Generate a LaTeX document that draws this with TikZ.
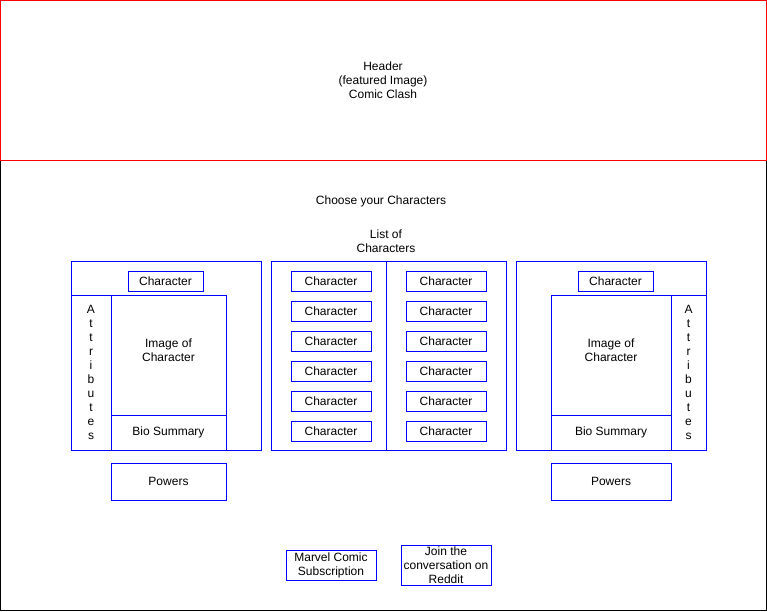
\documentclass[tikz,border=0pt]{standalone}
\usepackage{fontspec}
\setmainfont{Liberation Sans}
\usepackage{xcolor}
\usepackage{tikz}
\usetikzlibrary{positioning}
\definecolor{boxblue}{RGB}{0, 0, 255}
\definecolor{headred}{RGB}{255, 0, 0}

\begin{document}
\begin{tikzpicture}[x=1pt, y=-1pt,
          every node/.style={font=\fontsize{12}{14}\selectfont, inner sep=0pt, align=center},
          page/.style={rectangle, draw=black, line width=1pt, minimum width=766pt, minimum height=610pt},
          header/.style={rectangle, draw=headred, line width=1pt, minimum width=766pt, minimum height=160pt},
          panel/.style={rectangle, draw=boxblue, line width=1pt},
          charbox/.style={rectangle, draw=boxblue, line width=1pt, minimum height=20pt},
          listbox/.style={charbox, minimum width=80pt},
          imgtext/.style={label={[align=center, yshift=5pt]center:Image of\\Character}},
          caption/.style={rectangle, draw=none}
        ]
          \useasboundingbox (0,0) rectangle (767,611);

          % Page and Header
          \node[page] (page) at (383,305.5) {};
          \node[header] (header) at (383,80.5) {Header\\(featured Image)\\Comic Clash};

          % Titles
          \node[caption] (choose) at (381,201) {Choose your Characters};
          \node[caption] (listof) at (386,241.5) {List of\\Characters};

          % Left Player
          \node[panel, minimum width=190pt, minimum height=189pt] (leftpanel) at (166,355.5) {};
          \node[charbox, minimum width=75pt] (leftchar) at (165.5,281) {Character};
          \node[panel, minimum width=40pt, minimum height=155pt] (leftattr) at (91,372.5) {A\\t\\t\\r\\i\\b\\u\\t\\e\\s};
          \node[panel, imgtext, minimum width=115pt, minimum height=120pt] (leftimg) at (168.5,355) {};
          \node[panel, minimum width=115pt, minimum height=35pt] (leftbio) at (168.5,432.5) {Bio Summary};
          \node[panel, minimum width=115pt, minimum height=37pt] (leftpow) at (168.5,481.5) {Powers};

          % List of Characters
          \node[panel, minimum width=115pt, minimum height=189pt] (listleft) at (328.5,355.5) {};
          \node[panel, minimum width=120pt, minimum height=189pt] (listright) at (446,355.5) {};

          \node[listbox] (lchar1) at (331,281) {Character};
          \node[listbox] (lchar2) at (331,311) {Character};
          \node[listbox] (lchar3) at (331,341) {Character};
          \node[listbox] (lchar4) at (331,371) {Character};
          \node[listbox] (lchar5) at (331,401) {Character};
          \node[listbox] (lchar6) at (331,431) {Character};

          \node[listbox] (rchar1) at (446,281) {Character};
          \node[listbox] (rchar2) at (446,311) {Character};
          \node[listbox] (rchar3) at (446,341) {Character};
          \node[listbox] (rchar4) at (446,371) {Character};
          \node[listbox] (rchar5) at (446,401) {Character};
          \node[listbox] (rchar6) at (446,431) {Character};

          % Right Player
          \node[panel, minimum width=190pt, minimum height=189pt] (rightpanel) at (611,355.5) {};
          \node[charbox, minimum width=75pt] (rightchar) at (615.5,281) {Character};
          \node[panel, imgtext, minimum width=120pt, minimum height=120pt] (rightimg) at (611,355) {};
          \node[panel, minimum width=120pt, minimum height=35pt] (rightbio) at (611,432.5) {Bio Summary};
          \node[panel, minimum width=35pt, minimum height=155pt] (rightattr) at (688.5,372.5) {A\\t\\t\\r\\i\\b\\u\\t\\e\\s};
          \node[panel, minimum width=120pt, minimum height=37pt] (rightpow) at (611,481.5) {Powers};

          % Footer Links
          \node[panel, minimum width=90pt, minimum height=30pt] (marvel) at (331,565.5) {Marvel Comic\\Subscription};
          \node[panel, minimum width=90pt, minimum height=40pt] (reddit) at (446,565.5) {Join the\\conversation on\\Reddit};
        \end{tikzpicture}
\end{document}
